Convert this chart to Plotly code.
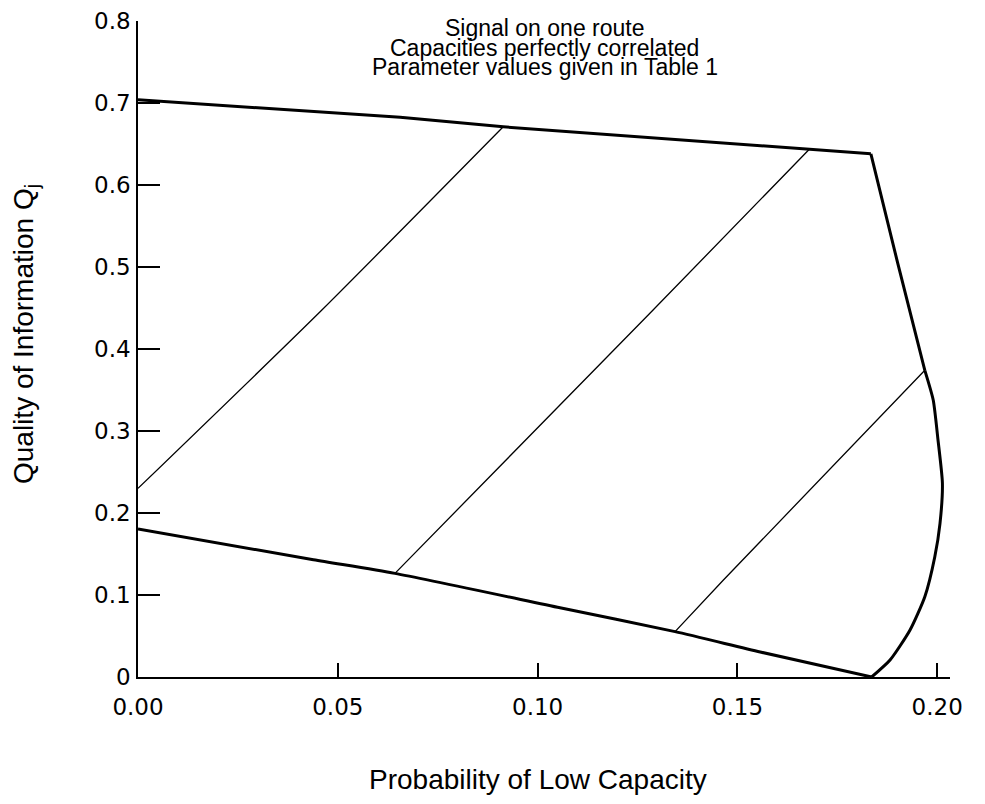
import plotly.graph_objects as go

# ---- data ----
top_x = [0.0, 0.0656, 0.0914, 0.168, 0.1834]
top_y = [0.704, 0.6825, 0.671, 0.6436, 0.638]

right_upper_x = [0.1834, 0.1901, 0.1969]
right_upper_y = [0.638, 0.505, 0.374]
right_lower_x = [0.1969, 0.1990, 0.2002, 0.2013, 0.2007, 0.1994, 0.1969, 0.1932, 0.1882, 0.1836]
right_lower_y = [0.374, 0.3378, 0.2890, 0.2362, 0.1874, 0.1467, 0.0979, 0.0573, 0.0207, 0.0]

bottom_x = [0.0, 0.0439, 0.0643, 0.1056, 0.1344, 0.1557, 0.1836]
bottom_y = [0.1805, 0.1430, 0.1264, 0.0845, 0.0553, 0.0305, 0.0]

line1_x = [0.0, 0.0457, 0.0914]
line1_y = [0.230, 0.446, 0.671]
line2_x = [0.0643, 0.1281, 0.168]
line2_y = [0.1264, 0.4435, 0.6436]
line3_x = [0.1344, 0.1465, 0.1969]
line3_y = [0.0553, 0.1183, 0.374]

x_ticks = [0.0, 0.05, 0.10, 0.15, 0.20]
x_ticktext = ["0.00", "0.05", "0.10", "0.15", "0.20"]
y_ticks = [0.0, 0.1, 0.2, 0.3, 0.4, 0.5, 0.6, 0.7, 0.8]
y_ticktext = ["0", "0.1", "0.2", "0.3", "0.4", "0.5", "0.6", "0.7", "0.8"]

title_lines = ["Signal on one route", "Capacities perfectly correlated", "Parameter values given in Table 1"]
x_title = "Probability of Low Capacity"
y_title = "Quality of Information Q<sub>j</sub>"

fig = go.Figure()
thick = dict(color="black", width=3)
thick_curve = dict(color="black", width=3, shape="spline", smoothing=0.6)
thin = dict(color="black", width=1.3)
thin_curve = dict(color="black", width=1.3, shape="spline", smoothing=0.6)
for xs, ys, ln in [(top_x, top_y, thick), (right_upper_x, right_upper_y, thick),
                   (right_lower_x, right_lower_y, thick_curve), (bottom_x, bottom_y, thick_curve),
                   (line1_x, line1_y, thin_curve), (line2_x, line2_y, thin), (line3_x, line3_y, thin)]:
    fig.add_trace(go.Scatter(x=xs, y=ys, mode="lines", line=ln, showlegend=False, hoverinfo="skip"))

tick_font = dict(family="DejaVu Sans", size=23, color="black")
fig.update_xaxes(range=[0, 0.2032], tickvals=x_ticks, ticktext=x_ticktext, ticks="inside", ticklen=14,
                 tickwidth=1.5, tickcolor="black", showline=True, linecolor="black", linewidth=1.5,
                 showgrid=False, zeroline=False, tickfont=tick_font, ticklabelstandoff=9,
                 automargin=False)
fig.update_yaxes(range=[0, 0.8], tickvals=y_ticks, ticktext=y_ticktext, ticks="inside", ticklen=22,
                 tickwidth=1.5, tickcolor="black", showline=True, linecolor="black", linewidth=1.5,
                 showgrid=False, zeroline=False, tickfont=tick_font, ticklabelstandoff=1,
                 automargin=False)

title_font = dict(family="Liberation Sans", size=23, color="black")
for i, t in enumerate(title_lines):
    py = 28 + 19.5 * i
    fig.add_annotation(text=t, xref="paper", yref="paper", x=0.501, y=(677 - py) / 656,
                       xanchor="center", yanchor="middle", showarrow=False, font=title_font)

axis_font = dict(family="Liberation Sans", size=28, color="black")
fig.add_annotation(text=x_title, xref="paper", yref="paper", x=0.4926, y=(677 - 779) / 656,
                   xanchor="center", yanchor="middle", showarrow=False, font=axis_font)
fig.add_annotation(text=y_title, xref="paper", yref="paper", x=(25 - 138) / 812, y=(677 - 334) / 656,
                   xanchor="center", yanchor="middle", showarrow=False, font=axis_font, textangle=-90)

fig.update_layout(width=985, height=804, margin=dict(l=130, r=43, t=13, b=135),
                  plot_bgcolor="white", paper_bgcolor="white")
fig.write_html("out.html")
